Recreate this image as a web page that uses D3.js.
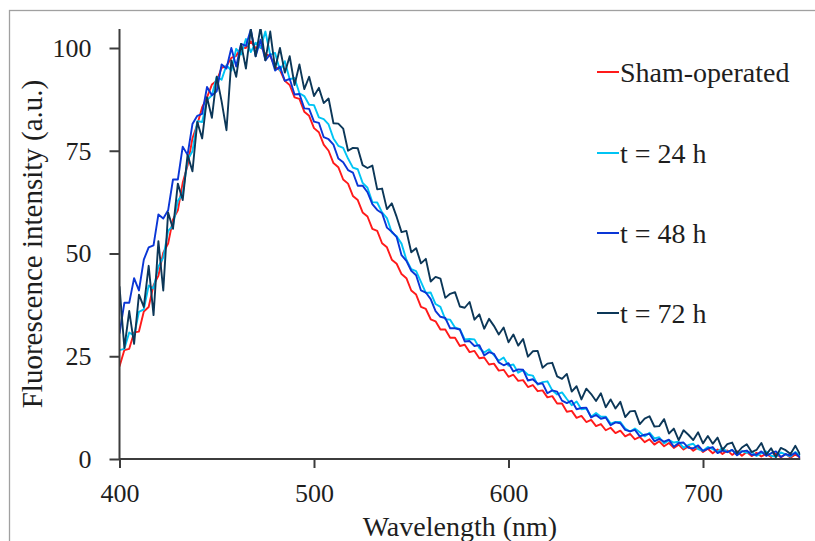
<!DOCTYPE html>
<html><head><meta charset="utf-8">
<script src="https://cdn.jsdelivr.net/npm/d3@7"></script>
<style>
html,body{margin:0;padding:0;background:#fff;}
svg{display:block;}
text{font-family:"Liberation Serif","Times New Roman",serif;fill:#1e1e1e;}
</style></head>
<body>
<svg id="chart" width="815" height="541"></svg>
<script>
// Wavelength grid (nm), 2.5 nm steps from 400 to 750
const wavelengths = d3.range(141).map(i => 400 + i * 2.5);

const seriesNames = ["Sham-operated", "t = 24 h", "t = 48 h", "t = 72 h"];
const seriesColors = ["#ff1a1a", "#00c4f4", "#0a36d6", "#0c3758"];

const sham = [22.5,26.5,26.8,30.8,31.0,35.9,37.0,42.3,44.6,50.2,
52.4,58.3,60.5,67.2,71.4,78.0,81.4,85.6,88.0,91.1,
92.0,95.2,95.6,97.6,98.1,100.2,100.0,101.6,100.0,100.6,
98.5,98.0,95.4,94.6,92.0,91.0,88.0,87.6,84.5,83.5,
80.5,79.5,76.5,75.0,72.0,71.0,68.0,67.0,64.0,63.0,
60.0,59.0,56.0,55.5,52.5,51.5,48.5,47.5,45.0,44.0,
41.0,40.0,37.0,36.5,34.0,33.5,31.5,31.5,29.5,29.5,
27.5,27.8,26.0,26.3,24.5,24.7,23.0,23.2,21.5,21.7,
20.0,20.5,19.0,19.2,17.5,18.0,16.5,16.7,15.0,15.3,
13.5,13.5,11.5,11.7,10.0,10.5,9.0,9.5,8.0,8.5,
7.0,7.6,6.3,6.9,5.5,6.1,4.8,5.4,4.1,4.8,
3.5,4.3,3.1,3.9,2.7,3.5,2.3,3.1,2.0,2.8,
1.7,2.5,1.4,2.3,1.2,2.1,1.0,1.9,0.8,1.7,
0.7,1.5,0.6,1.3,0.5,1.3,0.4,1.2,0.3,1.1,0.3];

const t24 = [26.5,26.8,30.8,30.0,35.8,36.4,42.2,41.5,46.8,49.0,
55.5,56.8,62.8,64.5,72.8,74.9,82.2,82.0,87.3,88.5,
93.0,92.3,95.8,94.5,99.8,98.4,102.2,99.0,101.3,100.0,
104.0,98.3,98.8,94.5,96.8,92.4,92.7,89.0,88.3,86.2,
86.1,83.1,82.7,81.4,78.0,76.2,75.7,73.1,70.9,70.5,
67.2,66.0,62.5,62.4,60.0,58.6,55.1,54.2,52.4,48.5,
46.2,45.7,43.1,40.4,40.5,37.7,37.0,34.0,33.9,32.0,
31.6,29.1,29.2,29.1,27.0,25.9,26.7,25.3,23.9,24.7,
22.7,23.0,21.0,21.6,20.5,20.3,18.1,18.7,18.9,16.7,
15.7,16.2,14.6,13.1,14.0,12.1,12.3,10.3,11.2,10.3,
10.3,8.6,9.0,9.0,7.4,6.7,7.4,6.5,5.5,6.4,
5.0,5.3,3.8,4.6,4.0,4.2,2.7,3.4,3.7,2.4,
2.0,2.95,2.4,1.75,2.7,1.7,2.2,1.0,1.9,1.5,
1.8,0.75,1.4,1.85,0.8,0.55,1.6,1.15,0.6,1.7,0.8];

const t48 = [30.5,38.0,38.0,44.0,41.0,48.5,51.5,52.0,59.5,58.5,
60.5,68.0,68.0,76.0,74.0,81.5,83.5,84.0,90.5,88.5,
89.5,96.0,95.0,100.0,95.5,101.0,100.5,104.5,98.0,102.0,
97.0,98.5,94.5,95.5,92.0,92.5,88.7,88.8,85.3,85.2,
82.1,81.8,78.3,77.8,76.5,73.1,72.2,70.3,69.7,66.5,
66.5,64.9,62.0,60.6,59.8,56.3,55.3,54.0,49.6,48.2,
45.8,44.7,41.0,40.5,38.9,36.0,34.6,34.3,31.8,31.8,
31.5,28.6,28.7,27.5,27.7,25.2,26.0,25.6,23.5,22.8,
23.3,21.3,21.8,21.7,19.1,19.4,18.3,18.4,16.0,16.7,
16.4,14.2,13.6,14.2,12.1,12.4,12.5,10.1,10.7,9.8,
10.1,8.2,8.9,8.7,7.1,6.7,7.1,5.5,5.9,6.1,
4.3,4.9,4.2,4.7,3.0,3.9,4.0,2.7,2.6,3.3,
2.0,2.55,2.9,1.45,2.05,1.65,2.2,0.9,1.85,2.05,
1.05,1.05,1.85,0.75,1.4,1.85,0.5,1.2,0.85,1.5,0.3];

const t72 = [42.0,27.0,36.0,28.0,40.0,37.0,47.0,35.0,53.0,41.0,
60.0,56.0,67.0,63.0,74.0,70.0,82.0,78.0,88.0,83.0,
93.0,87.0,80.0,97.0,93.0,101.0,95.0,104.5,98.0,105.0,
97.0,104.0,95.0,100.0,94.0,98.0,91.0,96.0,90.0,93.0,
88.3,90.3,86.6,87.7,81.7,81.6,80.4,75.0,75.7,75.6,
71.5,70.8,71.4,65.6,65.8,60.8,62.2,58.9,55.2,55.5,
50.3,51.3,47.6,48.7,43.2,44.3,43.9,39.2,40.2,40.6,
37.1,36.8,38.2,33.9,35.2,31.7,34.1,32.4,30.3,32.0,
28.4,30.3,27.6,29.2,24.9,26.2,26.3,22.2,23.2,23.4,
20.1,19.5,20.7,16.4,17.7,14.5,17.1,15.8,14.1,16.0,
12.6,14.5,12.3,13.9,10.2,11.6,11.7,8.5,9.8,10.4,
7.9,8.0,9.7,6.2,7.4,4.6,7.0,5.9,4.6,6.5,
3.8,5.6,3.7,5.2,2.2,3.6,4.0,1.4,2.8,3.6,
1.7,2.2,3.9,1.1,2.6,0.5,2.7,2.15,1.2,3.2,1.0];

const xTicks = [400, 500, 600, 700];
const yTicks = [0, 25, 50, 75, 100];
const xTitle = "Wavelength (nm)";
const yTitle = "Fluorescence intensity (a.u.)";

const seriesValues = [sham, t24, t48, t72];

const svg = d3.select("#chart");

// outer frame
svg.append("rect").attr("x", 9.5).attr("y", 10.5).attr("width", 830).attr("height", 560)
  .attr("fill", "none").attr("stroke", "#a0a0a0").attr("stroke-width", 1.3);

const x = d3.scaleLinear().domain([400, 700]).range([119.5, 703]);
const y = d3.scaleLinear().domain([0, 100]).range([459, 48]);
const xEnd = x(750), yTop = 29;

svg.append("clipPath").attr("id", "plotclip").append("rect")
  .attr("x", x(400)).attr("y", yTop).attr("width", xEnd - x(400)).attr("height", y(0) - yTop + 2);

const line = d3.line().x((d, i) => x(wavelengths[i])).y(d => y(d));

const g = svg.append("g").attr("clip-path", "url(#plotclip)");
seriesValues.forEach((vals, k) => {
  g.append("path").datum(vals)
    .attr("d", line)
    .attr("fill", "none")
    .attr("stroke", seriesColors[k])
    .attr("stroke-width", 1.9)
    .attr("stroke-linejoin", "round");
});

// axes
const axisColor = "#3c3c3c";
const yAxis = svg.append("g").attr("transform", `translate(${x(400)},0)`)
  .call(d3.axisLeft(y).tickValues(yTicks).tickSize(10).tickPadding(18).tickSizeOuter(0));
yAxis.select(".domain").attr("d", `M0,${y(0)}V${yTop}`);
const xAxis = svg.append("g").attr("transform", `translate(0,${y(0)})`)
  .call(d3.axisBottom(x).tickValues(xTicks).tickSize(9).tickPadding(16).tickSizeOuter(0));
xAxis.select(".domain").attr("d", `M${x(400)},0H${xEnd}`);
[xAxis, yAxis].forEach(a => {
  a.selectAll(".domain, .tick line").attr("stroke", axisColor).attr("stroke-width", 2);
  a.selectAll(".tick text").attr("font-family", "Liberation Serif, serif").attr("font-size", 26).attr("fill", "#1e1e1e");
});

svg.append("text").attr("x", (x(400) + xEnd) / 2).attr("y", 536)
  .attr("text-anchor", "middle").attr("font-size", 28).text(xTitle);

svg.append("text").attr("transform", `translate(42,244) rotate(-90)`)
  .attr("text-anchor", "middle").attr("font-size", 29).text(yTitle);

// legend
const legendY = [72, 153, 233, 313];
seriesNames.forEach((name, k) => {
  svg.append("line").attr("x1", 597).attr("x2", 619).attr("y1", legendY[k]).attr("y2", legendY[k])
    .attr("stroke", seriesColors[k]).attr("stroke-width", 2);
  svg.append("text").attr("x", 620).attr("y", legendY[k]).attr("dy", "0.35em")
    .attr("font-size", 28).text(name);
});
</script>
</body></html>
